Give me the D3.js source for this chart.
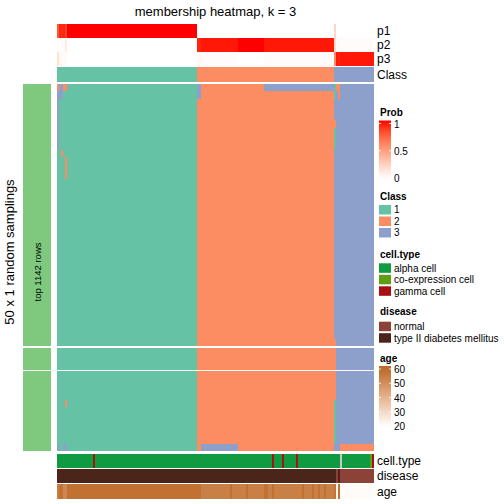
<!DOCTYPE html>
<html><head><meta charset="utf-8">
<script src="https://cdn.jsdelivr.net/npm/d3@7"></script>
<style>body{margin:0;background:#fff}svg{display:block}text{font-family:"Liberation Sans",Arial,Helvetica,sans-serif}</style>
</head><body><svg id="c" width="504" height="504"></svg>
<script>
// ---------------- data ----------------
const nCols = 158;
const rowSliceSizes = [36, 3, 11];          // 50 random samplings, 3 row slices
const classNames = [1, 2, 3];
const classColors = ["#66C2A5", "#FC8D62", "#8DA0CB"];
// consensus class per column: [fromCol, toCol, class]
const consensusClass = [[0, 69, 1], [70, 137, 2], [138, 157, 3]];
// per-sampling deviations: [fromRow, toRow, fromCol, toCol, class]
const deviations = [
  [0, 0, 0, 0, 2], [1, 8, 0, 0, 3], [0, 1, 1, 2, 3], [0, 0, 3, 4, 2],
  [9, 9, 2, 2, 2], [10, 12, 4, 4, 2], [43, 43, 4, 4, 2],
  [49, 49, 0, 0, 3], [49, 49, 3, 4, 3],
  [0, 1, 70, 71, 3], [0, 0, 103, 137, 3], [49, 49, 72, 89, 3],
  [0, 1, 138, 138, 1], [5, 5, 138, 138, 2], [6, 8, 138, 138, 1],
  [35, 42, 138, 138, 2], [43, 48, 138, 138, 1],
  [0, 0, 139, 139, 2], [0, 1, 140, 140, 2], [49, 49, 141, 157, 2]
];
// membership probabilities: [fromCol, toCol, value]
const p1 = [[0,0,.82],[1,1,.96],[2,2,.94],[3,3,.96],[4,4,.88],[5,69,1],[70,137,0],[138,138,.22],[139,157,0]];
const p2 = [[0,0,.02],[1,1,0],[2,2,.02],[3,3,.02],[4,4,.10],[5,69,0],[70,71,.96],[72,89,.98],[90,102,1],[103,137,.98],[138,138,.18],[139,139,.02],[140,140,.04],[141,157,.02]];
const p3 = [[0,0,.16],[1,1,.04],[2,2,.04],[3,3,.02],[4,4,.02],[5,69,0],[70,71,.04],[72,89,.02],[90,102,0],[103,137,.02],[138,138,.60],[139,139,.98],[140,140,.96],[141,157,.98]];
// sample annotations
const cellTypeNames = ["alpha cell", "co-expression cell", "gamma cell"];
const cellTypeColors = ["#109B43", "#5E9F14", "#A81111"];
const cellType = [[0,17,"alpha cell"],[18,18,"gamma cell"],[19,106,"alpha cell"],[107,107,"gamma cell"],[108,111,"alpha cell"],[112,112,"gamma cell"],[113,118,"alpha cell"],[119,119,"gamma cell"],[120,140,"alpha cell"],[141,141,null],[142,155,"alpha cell"],[156,156,"co-expression cell"],[157,157,"gamma cell"]];
const diseaseNames = ["normal", "type II diabetes mellitus"];
const diseaseColors = ["#8C4236", "#4B241A"];
const disease = [[0,138,"type II diabetes mellitus"],[139,139,"normal"],[140,140,"type II diabetes mellitus"],[141,157,"normal"]];
const age = [[0,0,55],[1,2,58],[3,4,52],[5,69,58],[70,71,58],[72,85,54],[86,86,58],[87,93,54],[94,94,58],[95,102,54],[103,104,58],[105,106,54],[107,107,58],[108,121,54],[122,122,58],[123,126,54],[127,127,58],[128,129,54],[130,130,58],[131,132,54],[133,133,58],[134,137,54],[138,138,57],[139,139,22],[140,140,58],[141,157,21]];
const probTicks = [0, 0.5, 1];
const ageTicks = [20, 30, 40, 50, 60];

// ---------------- helpers ----------------
function expand(segs) {
  const a = new Array(nCols);
  segs.forEach(([f, t, v]) => { for (let i = f; i <= t; i++) a[i] = v; });
  return a;
}
function runs(arr) {
  const out = []; let s = 0;
  for (let i = 1; i <= arr.length; i++) {
    if (i === arr.length || arr[i] !== arr[s]) { out.push({ from: s, to: i - 1, v: arr[s] }); s = i; }
  }
  return out;
}
const nRows = d3.sum(rowSliceSizes);
const base = expand(consensusClass);
const matrix = d3.range(nRows).map(() => base.slice());
deviations.forEach(([r0, r1, c0, c1, k]) => {
  for (let r = r0; r <= r1; r++) for (let c = c0; c <= c1; c++) matrix[r][c] = k;
});

// ---------------- layout ----------------
const svg = d3.select("#c");
const X0 = 57, X1 = 374, HT = 84, HB = 451, GAP = 1.3;
const x = d3.scaleBand().domain(d3.range(nCols)).range([X0, X1]);
const rowH = (HB - HT - GAP * (rowSliceSizes.length - 1)) / nRows;
const slices = []; { let y = HT, r = 0;
  rowSliceSizes.forEach(n => {
    slices.push({ rows: d3.range(r, r + n), y0: y, y1: y + n * rowH,
      scale: d3.scaleBand().domain(d3.range(r, r + n)).range([y, y + n * rowH]) });
    y += n * rowH + GAP; r += n;
  });
}
const classColor = d3.scaleOrdinal().domain(classNames).range(classColors);
const probColor = d3.scaleLinear().domain([0, 1]).range(["#FFFFFF", "#FF0000"]).interpolate(d3.interpolateLab);
const ageColor = d3.scaleLinear().domain([20, 60]).range(["#FFFFFF", "#BC6A26"]).interpolate(d3.interpolateLab);
const ctColor = d3.scaleOrdinal().domain(cellTypeNames).range(cellTypeColors).unknown("#C8C8C8");
const dzColor = d3.scaleOrdinal().domain(diseaseNames).range(diseaseColors);

// title
svg.append("text").attr("x", (X0 + X1) / 2).attr("y", 16).attr("text-anchor", "middle")
  .attr("font-size", 13).text("membership heatmap, k = 3");
// left title
svg.append("text").attr("transform", "translate(14,252) rotate(-90)").attr("text-anchor", "middle")
  .attr("font-size", 13).text("50 x 1 random samplings");

// heatmap body
const body = svg.append("g").attr("shape-rendering", "crispEdges");
slices.forEach(sl => {
  sl.rows.forEach(r => {
    runs(matrix[r]).forEach(run => {
      body.append("rect").attr("x", x(run.from)).attr("width", x(run.to) + x.bandwidth() - x(run.from))
        .attr("y", sl.scale(r)).attr("height", sl.scale.bandwidth()).attr("fill", classColor(run.v));
    });
  });
});
// left annotation bar
slices.forEach(sl => {
  svg.append("rect").attr("x", 23).attr("width", 28).attr("y", sl.y0).attr("height", sl.y1 - sl.y0)
    .attr("fill", "#7FC97F").attr("shape-rendering", "crispEdges");
});
svg.append("text").attr("transform", "translate(40.5,272) rotate(-90)").attr("text-anchor", "middle")
  .attr("font-size", 9.5).text("top 1142 rows");

// column annotations
function annoRow(vals, colorFn, y0, y1, label) {
  const g = svg.append("g").attr("shape-rendering", "crispEdges");
  runs(vals).forEach(run => {
    g.append("rect").attr("x", x(run.from)).attr("width", x(run.to) + x.bandwidth() - x(run.from))
      .attr("y", y0).attr("height", y1 - y0).attr("fill", colorFn(run.v));
  });
  svg.append("text").attr("x", X1 + 3).attr("y", (y0 + y1) / 2).attr("dy", "0.35em")
    .attr("font-size", 12).text(label);
}
annoRow(expand(p1), probColor, 24, 38, "p1");
annoRow(expand(p2), probColor, 38, 52, "p2");
annoRow(expand(p3), probColor, 52, 66, "p3");
annoRow(base, classColor, 67, 81.7, "Class");
annoRow(expand(cellType), ctColor, 453.7, 467.7, "cell.type");
annoRow(expand(disease), dzColor, 469, 482.7, "disease");
annoRow(expand(age), ageColor, 484, 499, "age");

// ---------------- legends ----------------
const LX = 380, LW = 12, LTX = 394;
function legTitle(y, t) {
  svg.append("text").attr("x", LX).attr("y", y).attr("dy", "0.35em").attr("font-size", 10)
    .attr("font-weight", "bold").text(t);
}
function legLabel(y, t) {
  svg.append("text").attr("x", LTX).attr("y", y).attr("dy", "0.35em").attr("font-size", 10).text(t);
}
function discreteLegend(titleY, boxY, names, colorFn, labels, title) {
  legTitle(titleY, title);
  names.forEach((n, i) => {
    const y = boxY + i * 11.5;
    svg.append("rect").attr("x", LX - 1).attr("y", y).attr("width", LW).attr("height", 9.5)
      .attr("fill", colorFn(n));
    legLabel(y + 4.8, labels[i]);
  });
}
const defs = svg.append("defs");
function gradLegend(id, titleY, title, yTop, yBot, ticks, scaleVals, colorFn) {
  legTitle(titleY, title);
  const ys = d3.scaleLinear().domain(scaleVals).range([yBot - 2, yTop + 3]);
  const gr = defs.append("linearGradient").attr("id", id).attr("x1", 0).attr("y1", 1).attr("x2", 0).attr("y2", 0);
  d3.range(0, 1.0001, 0.1).forEach(t => {
    const v = ys.invert(yBot - t * (yBot - yTop));
    const vc = Math.max(scaleVals[0], Math.min(scaleVals[1], v));
    gr.append("stop").attr("offset", t).attr("stop-color", colorFn(vc));
  });
  svg.append("rect").attr("x", LX - 1).attr("y", yTop).attr("width", LW).attr("height", yBot - yTop)
    .attr("fill", `url(#${id})`);
  ticks.forEach(tv => {
    const y = ys(tv);
    if (tv !== scaleVals[0]) {
      svg.append("line").attr("x1", LX - 1).attr("x2", LX + 1).attr("y1", y).attr("y2", y).attr("stroke", "#fff").attr("stroke-width", 0.8);
      svg.append("line").attr("x1", LX + LW - 3).attr("x2", LX + LW - 1).attr("y1", y).attr("y2", y).attr("stroke", "#fff").attr("stroke-width", 0.8);
    }
    legLabel(y + 0.5, String(tv));
  });
}
gradLegend("gp", 112.3, "Prob", 120.5, 180, probTicks, [0, 1], probColor);
discreteLegend(196.7, 205, classNames, classColor, classNames.map(String), "Class");
discreteLegend(254.3, 263.3, cellTypeNames, ctColor, cellTypeNames, "cell.type");
discreteLegend(311.7, 321.7, diseaseNames, dzColor, diseaseNames, "disease");
gradLegend("ga", 358.3, "age", 366, 428, ageTicks, [20, 60], ageColor);
</script></body></html>
